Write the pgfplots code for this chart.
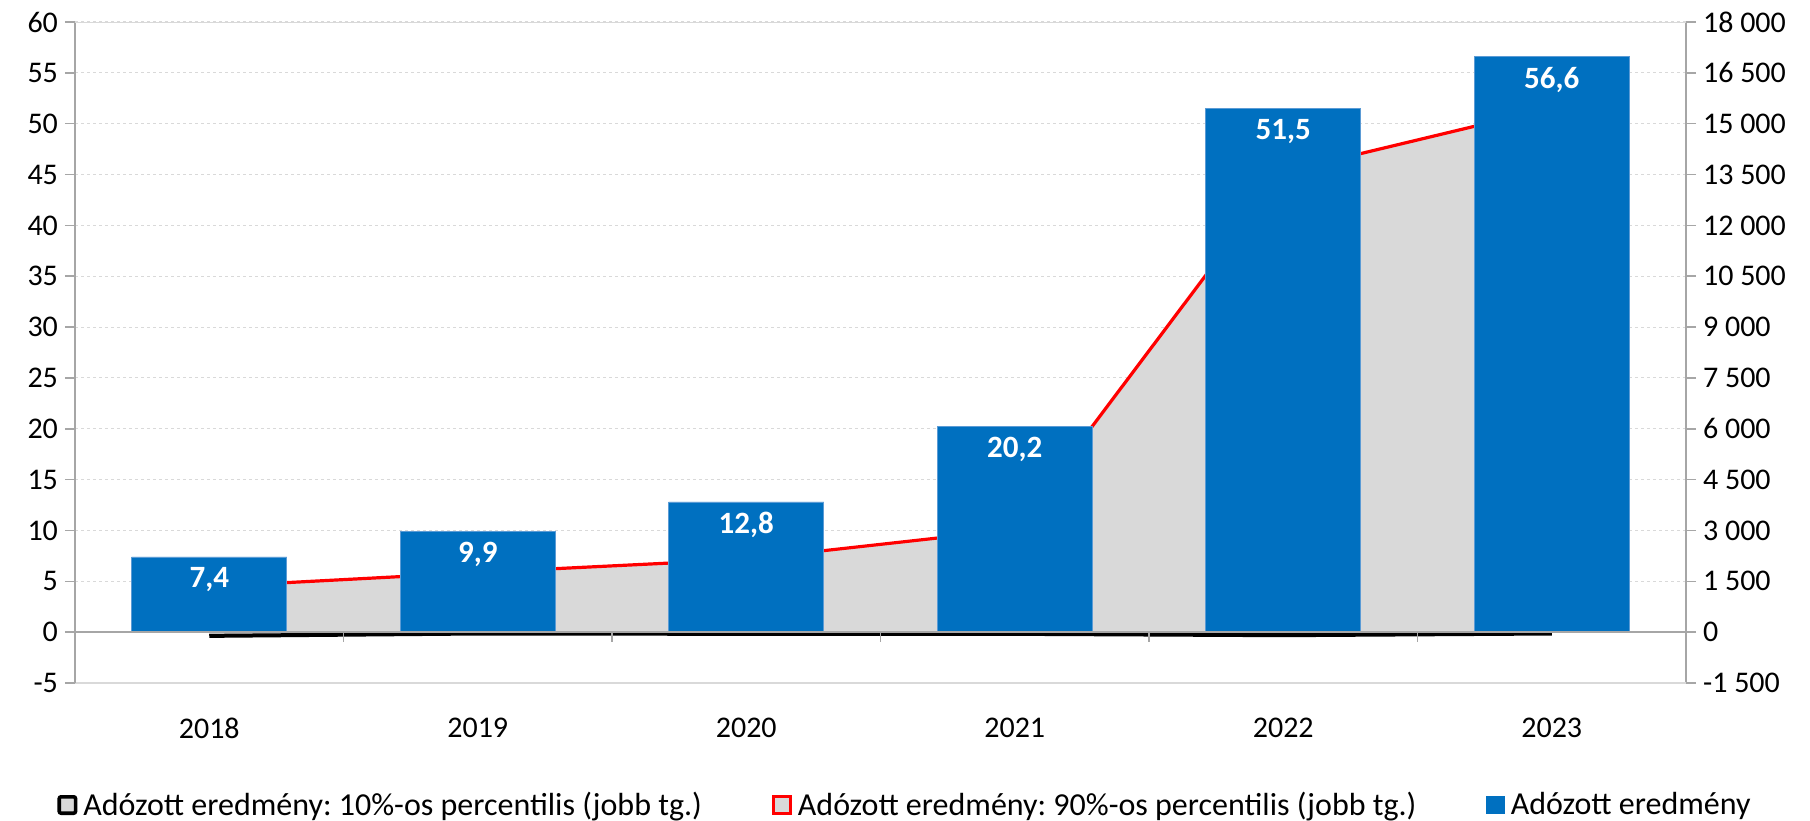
\documentclass[border=0pt]{standalone}
\usepackage{fontspec}
\setmainfont{Carlito}
\usepackage{pgfplots}
\pgfplotsset{compat=1.18}
\usepackage{pgfplotstable}
\definecolor{barblue}{HTML}{0070C0}
\definecolor{baredge}{HTML}{5B9BD5}
\definecolor{areagray}{HTML}{D9D9D9}
\definecolor{gridgray}{HTML}{D9D9D9}
\definecolor{axisgray}{HTML}{A6A6A6}
\frenchspacing

% Adózott eredmény (bal tengely)
\pgfplotstableread{
x y lab
0 7.4 {7,4}
1 9.9 {9,9}
2 12.8 {12,8}
3 20.2 {20,2}
4 51.5 {51,5}
5 56.6 {56,6}
}\bars

% 90%-os percentilis (jobb tengely)
\pgfplotstableread{
x y
0 1340
1 1760
2 2150
3 3030
4 13570
5 15470
}\pninety

% 10%-os percentilis (jobb tengely)
\pgfplotstableread{
x y
0 -110
1 -40
2 -50
3 -50
4 -90
5 -40
}\pten

\pgfplotsset{
  common/.style={
    scale only axis, width=805.5pt, height=330.5pt,
    at={(37.5pt,68.5pt)}, anchor=south west,
    xmin=-0.5, xmax=5.5,
    tick align=outside, major tick length=5pt,
    tick label style={font=\fontsize{15}{18}\selectfont},
    axis line style={draw=axisgray, line width=0.75pt},
    ytick style={draw=axisgray, line width=0.75pt},
    scaled y ticks=false,
  }
}

\begin{document}
\begin{tikzpicture}
\path[use as bounding box] (0,0) rectangle (905pt,410pt);

% jobb tengely: percentilisek
\begin{axis}[common,
  axis x line=none, axis y line*=right,
  ymin=-1500, ymax=18000,
  ytick={-1500,0,...,18000},
  yticklabels={-1 500,0,1 500,3 000,4 500,6 000,7 500,9 000,10 500,12 000,13 500,15 000,16 500,18 000},
  ymajorgrids,
  grid style={draw=gridgray, dash pattern=on 1.5pt off 1.5pt, line width=0.5pt},
]
\addplot[fill=areagray, draw=none] table {\pten} \closedcycle;
\addplot[fill=areagray, draw=none] table {\pninety} \closedcycle;
\addplot[black, line width=2pt] table {\pten};
\addplot[red, line width=1.6pt] table {\pninety};
\draw[red!70, line width=0.5pt] (axis cs:0,0) -- (axis cs:5,0);
\end{axis}

% bal tengely: oszlopok
\begin{axis}[common,
  axis y line*=left, axis x line*=bottom,
  x axis line style={draw=gridgray, line width=0.75pt},
  ymin=-5, ymax=60,
  ytick={-5,0,...,60},
  yticklabels={-5,0,5,10,15,20,25,30,35,40,45,50,55,60},
  xtick={0,...,5},
  xticklabels={2018,2019,2020,2021,2022,2023},
  xtick style={draw=none},
  xticklabel style={yshift=-9pt},
  legend columns=3,
  legend cell align=left,
  legend style={draw=none, fill=none, at={(axis description cs:0,0)}, anchor=west,
    xshift=-9pt, yshift=-61pt, inner sep=0pt,
    font=\fontsize{16}{19}\selectfont,
    nodes={inner xsep=3pt, inner ysep=0pt},
    /tikz/every even column/.append style={column sep=32pt}},
]
\addlegendimage{legend image code/.code={\draw[fill=areagray, draw=black, line width=1.8pt, rounded corners=1pt] (0.9pt,-4.1pt) rectangle (9.1pt,4.1pt);}}
\addlegendentry{Adózott eredmény: 10\%-os percentilis (jobb tg.)}
\addlegendimage{legend image code/.code={\draw[fill=areagray, draw=red, line width=1.4pt] (0.7pt,-4.3pt) rectangle (9.3pt,4.3pt);}}
\addlegendentry{Adózott eredmény: 90\%-os percentilis (jobb tg.)}
\addplot[ybar, bar width=0.578, fill=barblue, draw=baredge, line width=0.4pt,
  legend image code/.code={\fill[barblue] (0pt,-4.4pt) rectangle (8.8pt,4.4pt);},
  nodes near coords, point meta=explicit symbolic,
  every node near coord/.append style={font=\fontsize{15.5}{18}\bfseries\selectfont,
    text=white, anchor=center, yshift=-11.5pt}]
  table[x=x, y=y, meta=lab] {\bars};
\addlegendentry{Adózott eredmény}
\draw[gridgray, line width=0.75pt] (axis cs:-0.5,60) -- (axis cs:5.5,60);
\draw[axisgray, line width=0.75pt] (axis cs:-0.5,0) -- (axis cs:5.5,0);
\pgfplotsinvokeforeach{0.5,1.5,2.5,3.5,4.5}{
  \draw[axisgray, line width=0.75pt] (axis cs:#1,0) -- ([yshift=-5pt]axis cs:#1,0);
}
\end{axis}
\end{tikzpicture}
\end{document}
